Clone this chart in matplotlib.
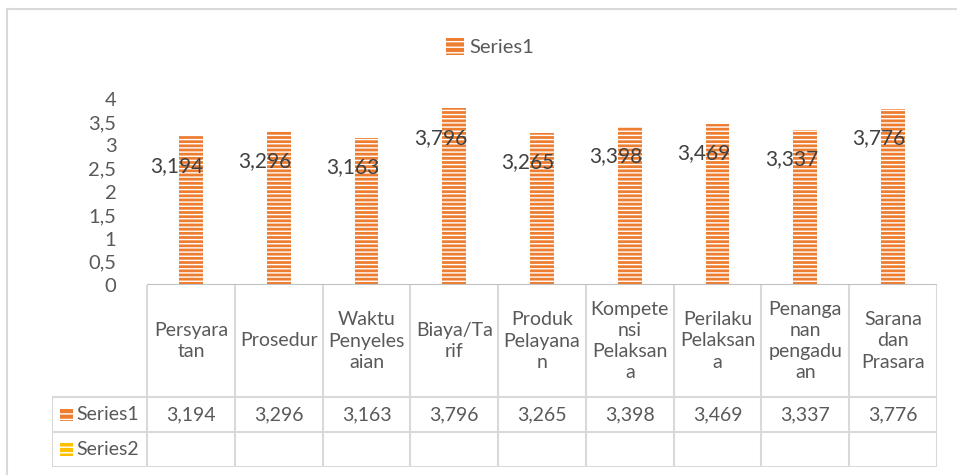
import matplotlib.pyplot as plt
from matplotlib.patches import Rectangle
from matplotlib.lines import Line2D

plt.rcParams['font.family'] = ['Lato', 'DejaVu Sans']
plt.rcParams['hatch.linewidth'] = 1.0

categories = ["Persyara\ntan", "Prosedur", "Waktu\nPenyeles\naian", "Biaya/Ta\nrif",
              "Produk\nPelayana\nn", "Kompete\nnsi\nPelaksan\na", "Perilaku\nPelaksan\na",
              "Penanga\nnan\npengadu\nan", "Sarana\ndan\nPrasara"]
series1 = [3.194, 3.296, 3.163, 3.796, 3.265, 3.398, 3.469, 3.337, 3.776]
series1_labels = ["3,194", "3,296", "3,163", "3,796", "3,265", "3,398", "3,469", "3,337", "3,776"]
yticks = [0, 0.5, 1, 1.5, 2, 2.5, 3, 3.5, 4]
ytick_labels = ["0", "0,5", "1", "1,5", "2", "2,5", "3", "3,5", "4"]

orange = "#ED7D31"
yellow = "#FFC000"
text_col = "#595959"
grid_col = "#D9D9D9"

W, H = 957, 475
fig = plt.figure(figsize=(W / 100, H / 100), dpi=100)

# outer chart border (top and left only visible)
fig.add_artist(Line2D([7 / W, 7 / W], [0, 1 - 9 / H], color=grid_col, lw=1.5, transform=fig.transFigure))
fig.add_artist(Line2D([7 / W, 1], [1 - 9 / H, 1 - 9 / H], color=grid_col, lw=1.5, transform=fig.transFigure))

# plot area in pixels
x0, x1 = 147, 937
y0, ytop = 285, 99
ax = fig.add_axes([x0 / W, 1 - y0 / H, (x1 - x0) / W, (y0 - ytop) / H])
xs = list(range(len(categories)))
ax.bar(xs, series1, width=0.27, color=orange, edgecolor="white", linewidth=0, hatch="----")
ax.set_xlim(-0.5, len(categories) - 0.5)
ax.set_ylim(0, 4)
ax.set_yticks(yticks)
ax.set_yticklabels(ytick_labels, fontsize=14.5, color=text_col)
ax.tick_params(axis="y", length=0, pad=22)
ax.set_xticks([])
for s in ax.spines.values():
    s.set_visible(False)
ax.axhline(0, color="#BFBFBF", lw=1.5)
for x, v, lab in zip(xs, series1, series1_labels):
    ax.annotate(lab, (x, v), xytext=(-10, -21), textcoords="offset points",
                ha="center", va="center", fontsize=15, color="#404040", clip_on=False)

# data table below
tx0 = 52
cw = (x1 - x0) / len(categories)
tax = fig.add_axes([tx0 / W, 1 - 467 / H, (x1 - tx0) / W, (467 - y0) / H])
left = -0.5 - (x0 - tx0) / cw
tax.set_xlim(left, len(categories) - 0.5)
tax.set_ylim(467, 285)
tax.axis("off")
row_cat = (285, 397)
row_s1 = (397, 432)
row_s2 = (432, 467)
lk = dict(color=grid_col, lw=1.5)
# horizontal lines
tax.plot([left, len(categories) - 0.5], [row_cat[1]] * 2, **lk)
tax.plot([left, len(categories) - 0.5], [row_s1[1]] * 2, **lk)
tax.plot([left, len(categories) - 0.5], [row_s2[1]] * 2, **lk)
# vertical lines
for i in range(len(categories) + 1):
    tax.plot([i - 0.5, i - 0.5], [285, 467], **lk)
tax.plot([left, left], [row_s1[0], row_s2[1]], **lk)

for i, (c, lab) in enumerate(zip(categories, series1_labels)):
    tax.text(i, sum(row_cat) / 2, c, ha="center", va="center", fontsize=14,
             color=text_col, linespacing=1.3)
    tax.text(i, sum(row_s1) / 2, lab, ha="center", va="center", fontsize=14, color=text_col)

# legend keys in the table
for row, name, col in [(row_s1, "Series1", orange), (row_s2, "Series2", yellow)]:
    kx = left + 8 / cw
    kh = 13
    tax.add_patch(Rectangle((kx, sum(row) / 2 - kh / 2), 13 / cw, kh, facecolor=col,
                            edgecolor="white", linewidth=0, hatch="---"))
    tax.text(kx + 16 / cw, sum(row) / 2, name, ha="left", va="center", fontsize=14, color=text_col)

# top legend
handle = Rectangle((0, 0), 1, 1, facecolor=orange, edgecolor="white", linewidth=0, hatch="---")
fig.legend([handle], ["Series1"], loc="center", bbox_to_anchor=(490 / W, 1 - 47 / H),
           frameon=False, fontsize=14.5, labelcolor=text_col, handlelength=0.9, handleheight=0.9,
           handletextpad=0.3)

fig.savefig("out.png", dpi=100)
